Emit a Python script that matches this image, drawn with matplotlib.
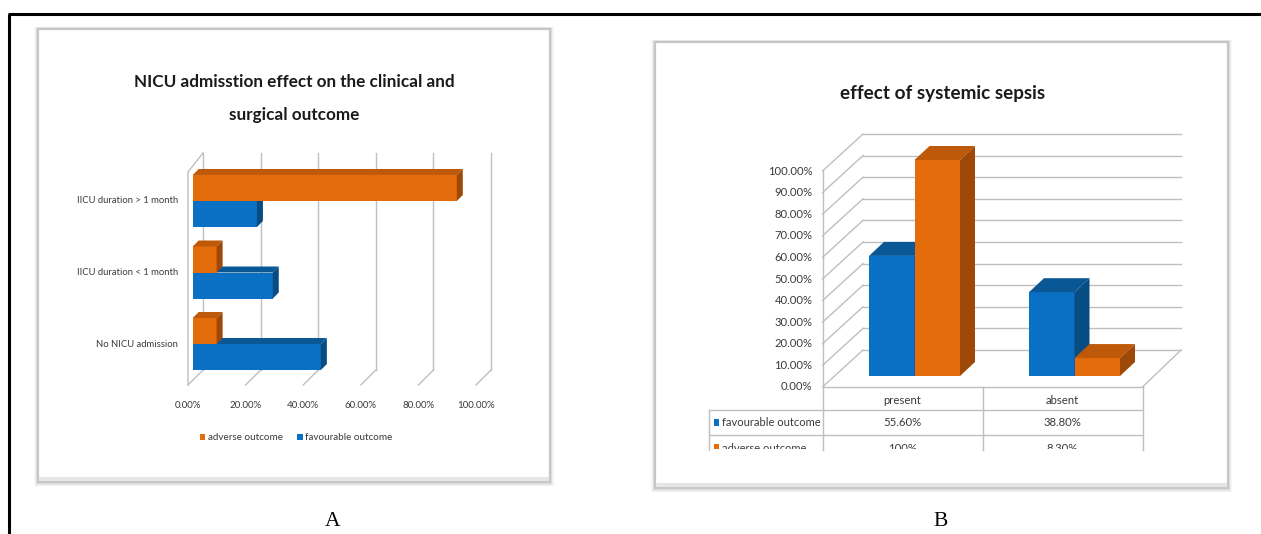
import matplotlib
matplotlib.use("Agg")
import matplotlib.pyplot as plt
from matplotlib.patches import Rectangle, Polygon
from matplotlib import font_manager

# chart A: NICU admission vs outcome (percent)
nicu_groups = ["No NICU admission", "IICU duration < 1 month", "IICU duration > 1 month"]
nicu_favourable = [44.5, 27.8, 22.3]
nicu_adverse = [8.3, 8.3, 91.7]
nicu_ticks = [0, 20, 40, 60, 80, 100]

# chart B: systemic sepsis vs outcome (fraction)
sepsis_groups = ["present", "absent"]
sepsis_favourable = [0.556, 0.388]
sepsis_adverse = [1.00, 0.083]
sepsis_ticks = [0.0, 0.1, 0.2, 0.3, 0.4, 0.5, 0.6, 0.7, 0.8, 0.9, 1.0]

ORANGE, ORANGE_TOP, ORANGE_SIDE = "#E46C0A", "#BF590A", "#9E4907"
BLUE, BLUE_TOP, BLUE_SIDE = "#0A70C4", "#0A5796", "#084C84"
GRID = "#BFBFBF"
TXT = "#3a3a3a"

names = {f.name for f in font_manager.fontManager.ttflist}
NARROW = next((n for n in ["Liberation Sans Narrow", "Lato", "Roboto"] if n in names), "DejaVu Sans")
plt.rcParams["font.family"] = [NARROW, "DejaVu Sans"]

W, H = 1261, 534
fig = plt.figure(figsize=(W / 100, H / 100), dpi=100)


def px_axes(x0, y0, x1, y1):
    return fig.add_axes([x0 / W, 1 - y1 / H, (x1 - x0) / W, (y1 - y0) / H])


def pct(v):
    v = v * 100
    return "{:g}%".format(v) if abs(v - round(v)) < 1e-9 and v >= 100 else "{:.2f}%".format(v)


# background: page border, panel boxes, captions
bg = fig.add_axes([0, 0, 1, 1])
bg.set_xlim(0, W)
bg.set_ylim(H, 0)
bg.axis("off")
bg.plot([8, W], [14, 14], color="black", lw=2.2, solid_capstyle="butt")
bg.plot([9, 9], [14, H], color="black", lw=2.2, solid_capstyle="butt")

for (x0, y0, x1, y1) in [(38, 29, 550, 482), (655, 42, 1228, 488)]:
    for k in range(6, 0, -1):
        bg.add_patch(Rectangle((x0 - k * 0.6, y0 - k * 0.4), x1 - x0 + k * 1.2, y1 - y0 + k * 1.1,
                               facecolor="#000000", alpha=0.03, edgecolor="none"))
    bg.add_patch(Rectangle((x0, y0), x1 - x0, y1 - y0, facecolor="white", edgecolor="#C6C6C6", lw=1.6))
    bg.plot([x0 + 3, x1 - 3], [y1 - 3, y1 - 3], color="#E6E6E6", lw=3)

bg.text(333, 521, "A", family="Liberation Serif", fontsize=15.5, ha="center", va="center")
bg.text(941, 521, "B", family="Liberation Serif", fontsize=15.5, ha="center", va="center")

bg.text(294, 82, "NICU admisstion effect on the clinical and", fontsize=12.3, weight="bold",
        ha="center", va="center", color="#1a1a1a")
bg.text(294, 115, "surgical outcome", fontsize=12.3, weight="bold", ha="center", va="center", color="#1a1a1a")
bg.text(943, 94, "effect of systemic sepsis", fontsize=13.6, weight="bold", ha="center", va="center",
        color="#1a1a1a")

# ---------------- chart A: horizontal 3D-look bars ----------------
axA = px_axes(192.7, 153, 480.7, 385)
axA.set_xlim(0, 100)
axA.set_ylim(-0.573, 2.671)
axA.axis("off")
ux = 100 / 288.0
uy = 1 / 71.5

back_bot, back_top = -0.364, 2.671
floor = -0.573
for t in nicu_ticks:
    axA.plot([t + 10.3 * ux] * 2, [back_bot, back_top], color=GRID, lw=1, zorder=1, clip_on=False)
    axA.plot([t + 10.3 * ux, t - 4.7 * ux], [back_bot, floor], color=GRID, lw=1, zorder=1, clip_on=False)
    axA.text(t - 4.7 * ux, (344 - 405) * uy, "{:.2f}%".format(t), ha="center", va="center",
             fontsize=7.0, color=TXT)
axA.plot([-4.7 * ux, -4.7 * ux, 10.3 * ux], [floor, (344 - 172) * uy, back_top], color=GRID, lw=1,
         zorder=1, clip_on=False)

h = 26 / 71.5
dxd, dyd = 6 * ux, 6 * uy


def hbar3d(ax, y, v, front, top, side, z, label):
    bars = ax.barh(y, v, height=h, color=front, lw=0, zorder=z, label=label)
    y0, y1 = y - h / 2, y + h / 2
    ax.add_patch(Polygon([(0, y1), (v, y1), (v + dxd, y1 + dyd), (dxd, y1 + dyd)], closed=True,
                         facecolor=top, lw=0, zorder=z, clip_on=False))
    ax.add_patch(Polygon([(v, y0), (v, y1), (v + dxd, y1 + dyd), (v + dxd, y0 + dyd)], closed=True,
                         facecolor=side, lw=0, zorder=z, clip_on=False))
    return bars


for i, name in enumerate(nicu_groups):
    hb = hbar3d(axA, i - h / 2, nicu_favourable[i], BLUE, BLUE_TOP, BLUE_SIDE, 3, "favourable outcome")
    ho = hbar3d(axA, i + h / 2, nicu_adverse[i], ORANGE, ORANGE_TOP, ORANGE_SIDE, 4, "adverse outcome")
    axA.text(-14.7 * ux, i, name, ha="right", va="center", fontsize=6.8, color=TXT)

axA.legend(handles=[ho, hb], labels=["adverse outcome", "favourable outcome"], ncol=2, loc="center",
           bbox_to_anchor=(296 / W, 1 - 438 / H), bbox_transform=fig.transFigure, frameon=False,
           fontsize=7.1, handlelength=0.6, handleheight=0.65, handletextpad=0.25, columnspacing=1.4,
           labelcolor=TXT)

# ---------------- chart B: column 3D-look bars with data table ----------------
axB = px_axes(834.5, 160, 1154.5, 376)
axB.set_xlim(-0.5, 1.5)
axB.set_ylim(0, 1)
axB.axis("off")
vx = 2 / 320.0
vy = 1 / 216.0

fx = -12 * vx      # front plane shift
fy = -11 * vy
bx = 28.5 * vx     # back wall shift
by = 26 * vy
for t in sepsis_ticks:
    axB.plot([-0.5 + bx, 1.5 + 26.5 * vx], [t + by] * 2, color=GRID, lw=1, zorder=1, clip_on=False)
    axB.plot([-0.5 + fx, -0.5 + bx], [t + fy, t + by], color=GRID, lw=1, zorder=1, clip_on=False)
    axB.text(-0.5 + fx - 10 * vx, t + fy, "{:.2f}%".format(t * 100), ha="right", va="center",
             fontsize=8.1, color=TXT)
axB.plot([-0.5 + fx] * 2, [fy, 1 + fy], color=GRID, lw=1, zorder=1, clip_on=False)
axB.plot([1.5 + fx, 1.5 + 26.5 * vx], [fy, by], color=GRID, lw=1, zorder=1, clip_on=False)

bw = 45.5 / 160.0
ex, ey = 15 * vx, 14 * vy


def vbar3d(ax, x, v, front, top, side, z):
    ax.bar(x, v, width=bw, color=front, lw=0, zorder=z)
    x0, x1 = x - bw / 2, x + bw / 2
    ax.add_patch(Polygon([(x0, v), (x1, v), (x1 + ex, v + ey), (x0 + ex, v + ey)], closed=True,
                         facecolor=top, lw=0, zorder=z, clip_on=False))
    ax.add_patch(Polygon([(x1, 0), (x1, v), (x1 + ex, v + ey), (x1 + ex, ey)], closed=True,
                         facecolor=side, lw=0, zorder=z, clip_on=False))


for i in range(len(sepsis_groups)):
    vbar3d(axB, i - bw / 2, sepsis_favourable[i], BLUE, BLUE_TOP, BLUE_SIDE, 3)
    vbar3d(axB, i + bw / 2, sepsis_adverse[i], ORANGE, ORANGE_TOP, ORANGE_SIDE, 4)

# data table under the columns (front plane); last row is cut off at the chart edge
tl = -0.5 - 125.5 * vx
tx0, tx1 = -0.5 + fx, 1.5 + fx
r0, r1, r2, rclip = fy, -34 * vy, -59 * vy, -74 * vy
tkw = dict(color=GRID, lw=1, zorder=1, clip_on=False)
axB.plot([tx0, tx1], [r0, r0], **tkw)
axB.plot([tl, tx1], [r1, r1], **tkw)
axB.plot([tl, tx1], [r2, r2], **tkw)
for xv in [tx0, 0.5 + fx, tx1]:
    axB.plot([xv, xv], [r0, rclip], **tkw)
axB.plot([tl, tl], [r1, rclip], **tkw)

clip = Rectangle((690, 380), 480, 69, transform=bg.transData)
for i, g in enumerate(sepsis_groups):
    axB.text(i + fx, -25 * vy, g, ha="center", va="center", fontsize=8.2, color=TXT)
rows = [("favourable outcome", sepsis_favourable, BLUE, -46.5 * vy),
        ("adverse outcome", sepsis_adverse, ORANGE, -72 * vy)]
for label, vals, col, ry in rows:
    sq = Rectangle((tl + 4.5 * vx, ry - 3.5 * vy), 5.5 * vx, 7.5 * vy, facecolor=col, lw=0,
                   clip_on=True)
    axB.add_patch(sq)
    sq.set_clip_path(clip)
    t = axB.text(tl + 12.5 * vx, ry, label, ha="left", va="center", fontsize=8.0, color=TXT,
                 clip_on=True)
    t.set_clip_path(clip)
    for i, v in enumerate(vals):
        t = axB.text(i + fx, ry, pct(v), ha="center", va="center", fontsize=8.2, color=TXT,
                     clip_on=True)
        t.set_clip_path(clip)

fig.savefig("out.png", dpi=100)
